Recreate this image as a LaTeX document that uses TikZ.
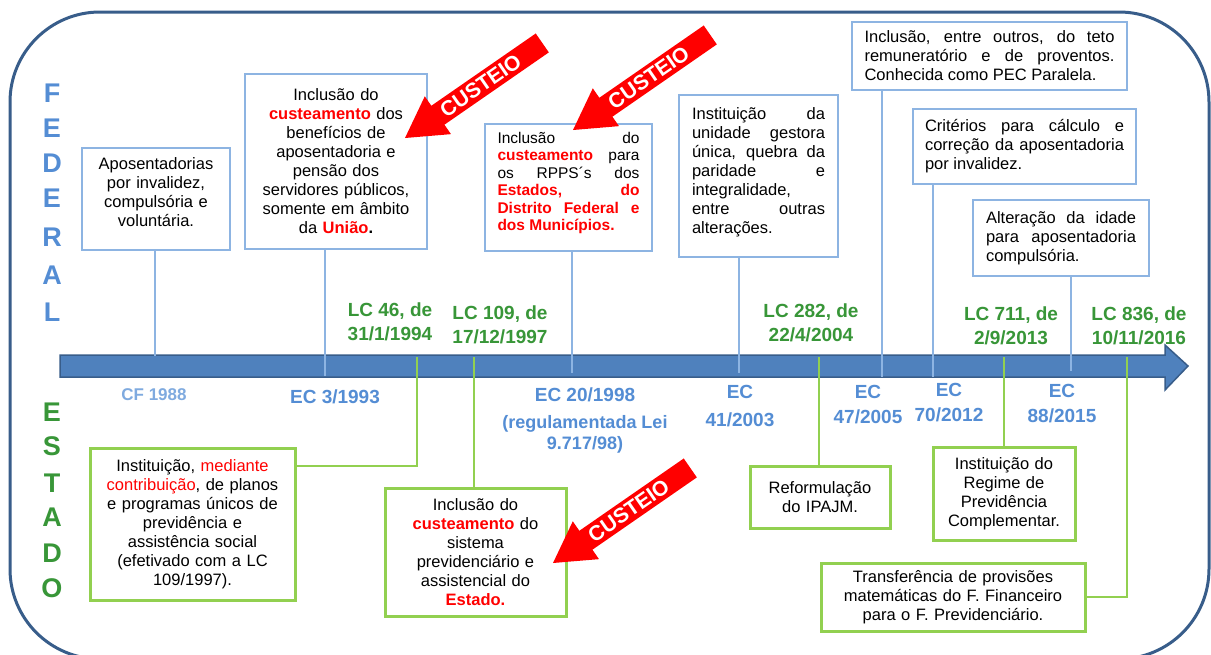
\documentclass[tikz,border=0pt]{standalone}
\usepackage{fontspec}
\setmainfont{Liberation Sans}

\definecolor{azulfed}{RGB}{84,141,212}
\definecolor{azulcaixa}{RGB}{141,180,226}
\definecolor{azulbarra}{RGB}{79,129,189}
\definecolor{azulborda}{RGB}{56,93,138}
\definecolor{verdeest}{RGB}{56,150,56}
\definecolor{verdecaixa}{RGB}{146,208,80}

\newcommand\corpo{\fontsize{16.5}{19}\selectfont}
\newcommand\verm[1]{\textcolor{red}{\textbf{#1}}}
\newcommand\just[1]{\makebox[\linewidth][s]{\spaceskip=0pt \xspaceskip=0pt #1}}

\tikzset{
  caixafed/.style={draw=azulcaixa, line width=2pt, fill=white, font=\corpo, inner sep=2pt},
  caixaest/.style={draw=verdecaixa, line width=3pt, fill=white, font=\corpo, inner sep=2pt, align=center},
  linhafed/.style={draw=azulcaixa, line width=2pt},
  linhaest/.style={draw=verdecaixa, line width=2.5pt},
  rotlc/.style={text=verdeest, font=\fontsize{19}{24}\selectfont\bfseries, align=center},
  rotec/.style={text=azulfed, font=\fontsize{19}{25}\selectfont\bfseries, align=center},
  letra/.style={font=\fontsize{27}{27}\selectfont\bfseries, inner sep=0pt},
  custeio/.style={text=white, font=\fontsize{21}{21}\selectfont\bfseries, inner sep=0pt, rotate=34.7}
}

\begin{document}
\begin{tikzpicture}[x=1pt, y=-1pt]
    \useasboundingbox (0,0) rectangle (1211,654);
    \fill[white] (0,0) rectangle (1211,654);
    \clip (0,0) rectangle (1211,654);

    % Moldura
    \draw[azulborda, line width=3pt, rounded corners=90pt] (10,12) rectangle (1209,659);

    % Linha do tempo
    \filldraw[fill=azulbarra, draw=azulborda, line width=1.5pt]
        (60,355) -- (1165,355) -- (1165,345) -- (1188,366) -- (1165,390) -- (1165,377) -- (60,377) -- cycle;

    % Marcos federais e estaduais sobre a barra
    \coordinate (m88) at (155,356);
    \coordinate (m93) at (325,376);
    \coordinate (m98) at (572,373);
    \coordinate (m03) at (739,373);
    \coordinate (m05) at (882,377);
    \coordinate (m12) at (933,377);
    \coordinate (m15) at (1071,371);
    \coordinate (lc46) at (417,357);
    \coordinate (lc109) at (474,357);
    \coordinate (lc282) at (819,357);
    \coordinate (lc711) at (1004,357);
    \coordinate (lc836) at (1127,357);

    % FEDERAL / ESTADO
    \foreach \l/\y [count=\i] in {F/93, E/128, D/163, E/198, R/237, A/275, L/312}
        \node[letra, text=azulfed] (federal\i) at (52,\y) {\l};
    \foreach \l/\y [count=\i] in {E/412, S/446, T/483, A/517, D/553, O/588}
        \node[letra, text=verdeest] (estado\i) at (52,\y) {\l};

    % Caixas federais
    \node[caixafed, minimum width=148pt, minimum height=102pt, text width=135pt, align=center, text depth=70pt]
        (fed1) at (156,199) {Aposentadorias\\por invalidez,\\compulsória e\\voluntária.};
    \node[caixafed, minimum width=182pt, minimum height=175pt, text width=170pt, align=center]
        (fed2) at (336,161.5) {Inclusão do\\\verm{custeamento} dos\\benefícios de\\aposentadoria e\\pensão dos\\servidores públicos,\\somente em âmbito\\da \verm{União}\textbf{.}};
    \node[caixafed, anchor=north, inner xsep=12.5pt, inner ysep=0pt, text width=142pt, align=justify,
          text height=19.5pt, text depth=107pt, font=\fontsize{15.5}{17.4}\selectfont]
        (fed3) at (568.5,123) {\just{Inclusão do}\\\just{\verm{custeamento} para}\\\just{os RPPS´s dos}\\\just{\verm{Estados, do}}\\\just{\verm{Distrito Federal e}}\\\verm{dos Municípios.}};
    \node[caixafed, anchor=north, inner xsep=13pt, inner ysep=0pt, text width=133pt, align=justify,
          text height=24pt, text depth=138pt]
        (fed4) at (758.5,94) {\just{Instituição da}\\\just{unidade gestora}\\\just{única, quebra da}\\\just{paridade e}\\integralidade,\\\just{entre outras}\\alterações.};
    \node[caixafed, minimum width=275pt, minimum height=68pt, text width=250pt, align=justify]
        (fed5) at (989.5,56) {\just{Inclusão, entre outros, do teto}\\\just{remuneratório e de proventos.}\\Conhecida como PEC Paralela.};
    \node[caixafed, minimum width=223pt, minimum height=75pt, text width=199pt, align=justify]
        (fed6) at (1024.5,146.5) {\just{Critérios para cálculo e}\\\just{correção da aposentadoria}\\por invalidez.};
    \node[caixafed, minimum width=176pt, minimum height=76pt, text width=150pt, align=justify]
        (fed7) at (1061,238) {\just{Alteração da idade}\\\just{para aposentadoria}\\compulsória.};

    % Caixas estaduais
    \node[caixaest, minimum width=205pt, minimum height=152pt, text width=185pt]
        (est1) at (192.5,524) {Instituição, \textcolor{red}{mediante}\\\textcolor{red}{contribuição}, de planos\\e programas únicos de\\previdência e\\assistência social\\(efetivado com a LC\\109/1997).};
    \node[caixaest, minimum width=181pt, minimum height=128pt, text width=165pt]
        (est2) at (475.5,552) {Inclusão do\\\verm{custeamento} do\\sistema\\previdenciário e\\assistencial do\\\verm{Estado.}};
    \node[caixaest, minimum width=140pt, minimum height=62pt, text width=125pt]
        (est3) at (820,497) {Reformulação\\do IPAJM.};
    \node[caixaest, minimum width=142pt, minimum height=93pt, text width=130pt]
        (est4) at (1004,493.5) {Instituição do\\Regime de\\Previdência\\Complementar.};
    \node[caixaest, minimum width=264pt, minimum height=68pt, text width=245pt]
        (est5) at (953,597) {Transferência de provisões\\matemáticas do F. Financeiro\\para o F. Previdenciário.};

    % Ligações federais
    \draw[linhafed] (fed1.south -| m88) -- (m88);
    \draw[linhafed] (fed2.south -| m93) -- (m93);
    \draw[linhafed] (fed3.south -| m98) -- (m98);
    \draw[linhafed] (fed4.south -| m03) -- (m03);
    \draw[linhafed] (fed5.south -| m05) -- (m05);
    \draw[linhafed] (fed6.south -| m12) -- (m12);
    \draw[linhafed] (fed7.south -| m15) -- (m15);

    % Ligações estaduais
    \draw[linhaest] (lc46) |- (est1.east |- 0,466);
    \draw[linhaest] (lc109) -- (est2.north -| lc109);
    \draw[linhaest] (lc282) -- (est3.north -| lc282);
    \draw[linhaest] (lc711) -- (est4.north -| lc711);
    \draw[linhaest] (lc836) |- (est5.east);

    % Datas das leis complementares
    \node[rotlc] (lc46txt) at (390,321.5) {LC 46, de\\31/1/1994};
    \node[rotlc] (lc109txt) at (500,325) {LC 109, de\\17/12/1997};
    \node[rotlc] (lc282txt) at (811,322.5) {LC 282, de\\22/4/2004};
    \node[rotlc] (lc711txt) at (1011,325.5) {LC 711, de\\2/9/2013};
    \node[rotlc] (lc836txt) at (1139,325.5) {LC 836, de\\10/11/2016};

    % Emendas constitucionais
    \node[rotec, text=azulfed!75, font=\fontsize{17}{20}\selectfont\bfseries] (cf88txt) at (154,395) {CF 1988};
    \node[rotec] (ec3txt) at (335,397) {EC 3/1993};
    \node[rotec] (ec20txt) at (585,395) {EC 20/1998};
    \node[rotec, font=\fontsize{18}{21}\selectfont\bfseries] (lei9717) at (585,434.5) {(regulamentada Lei\\9.717/98)};
    \node[rotec] (ec41txt) at (740,406) {EC\\[3pt]41/2003};
    \node[rotec] (ec47txt) at (868,404.5) {EC\\47/2005};
    \node[rotec] (ec70txt) at (949,403) {EC\\70/2012};
    \node[rotec] (ec88txt) at (1062,403.5) {EC\\88/2015};

    % Setas de custeio
    \foreach \sx/\sy [count=\i] in {405/138, 573/130, 553/563} {
        \begin{scope}[shift={(\sx,\sy)}, rotate=34.7]
            \fill[red] (0,0) -- (40,23) -- (40,11.5) -- (167,11.5) -- (167,-11.5) -- (40,-11.5) -- (40,-23) -- cycle;
            \node[custeio] (custeio\i) at (92,0) {CUSTEIO};
        \end{scope}
    }
\end{tikzpicture}
\end{document}
